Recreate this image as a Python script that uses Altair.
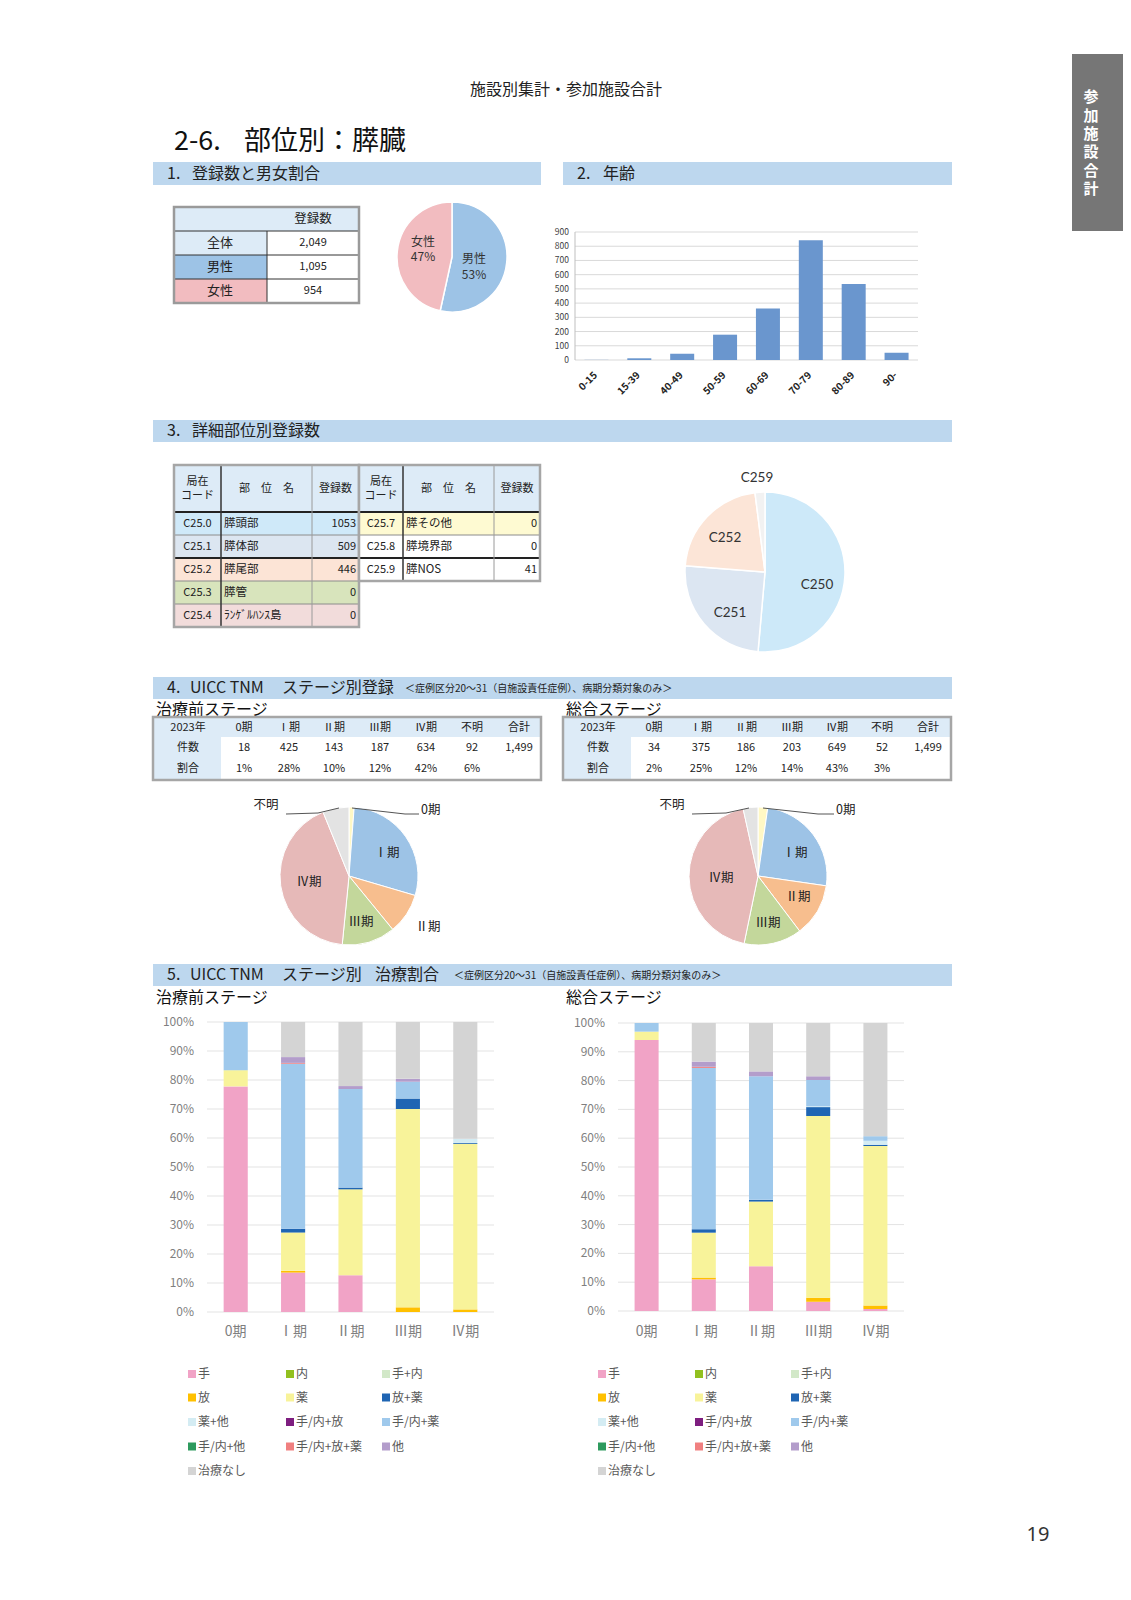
import altair as alt
import pandas as pd

# ---------------- data ----------------
sex_labels = ["男性", "女性"]
sex_counts = [1095, 954]

age_groups = ["0-15", "15-39", "40-49", "50-59", "60-69", "70-79", "80-89", "90-"]
age_counts = [1, 12, 44, 178, 362, 842, 535, 51]
age_ticks = [0, 100, 200, 300, 400, 500, 600, 700, 800, 900]

site_codes_a = ["C25.0", "C25.1", "C25.2", "C25.3", "C25.4"]
site_names_a = ["膵頭部", "膵体部", "膵尾部", "膵管", "ﾗﾝｹﾞﾙﾊﾝｽ島"]
site_counts_a = [1053, 509, 446, 0, 0]
site_codes_b = ["C25.7", "C25.8", "C25.9"]
site_names_b = ["膵その他", "膵境界部", "膵NOS"]
site_counts_b = [0, 0, 41]

stage_labels = ["0期", "Ⅰ期", "Ⅱ期", "Ⅲ期", "Ⅳ期", "不明"]
stage_pre = [18, 425, 143, 187, 634, 92]
stage_all = [34, 375, 186, 203, 649, 52]

treatments = ["手", "内", "手+内", "放", "薬", "放+薬", "薬+他", "手/内+放",
              "手/内+薬", "手/内+他", "手/内+放+薬", "他", "治療なし"]
bar_stages = ["0期", "Ⅰ期", "Ⅱ期", "Ⅲ期", "Ⅳ期"]
# percent per treatment (legend order), one list per stage
pre_treat = {
    "0期": [77.8, 0, 0, 0, 5.6, 0, 0, 0, 16.6, 0, 0, 0, 0],
    "Ⅰ期": [13.6, 0, 0, 0.6, 13.2, 1.3, 0, 0, 56.9, 0, 0.3, 2.0, 12.1],
    "Ⅱ期": [12.7, 0, 0, 0, 29.6, 0.6, 0, 0, 34.0, 0, 0, 1.0, 22.1],
    "Ⅲ期": [0, 0, 0, 1.6, 68.4, 3.6, 0, 0, 5.8, 0, 0, 1.0, 19.6],
    "Ⅳ期": [0, 0, 0, 0.9, 57.1, 0.3, 1.4, 0, 0, 0, 0, 0, 40.3],
}
all_treat = {
    "0期": [94.1, 0, 0, 0, 2.9, 0, 0, 0, 3.0, 0, 0, 0, 0],
    "Ⅰ期": [11.0, 0, 0, 0.6, 15.6, 1.2, 0, 0, 56.0, 0, 0.4, 1.8, 13.4],
    "Ⅱ期": [15.5, 0, 0, 0, 22.5, 0.6, 0, 0, 42.9, 0, 0, 1.7, 16.8],
    "Ⅲ期": [3.2, 0, 0, 1.4, 63.1, 3.1, 0.3, 0, 9.1, 0, 0, 1.3, 18.5],
    "Ⅳ期": [0.7, 0, 0, 1.2, 55.4, 0.4, 1.4, 0, 1.6, 0, 0, 0, 39.3],
}
pct_ticks = [0, 10, 20, 30, 40, 50, 60, 70, 80, 90, 100]

# ---------------- styles ----------------
SEX_COLORS = ["#9DC3E6", "#F2BCC0"]
SITE_COLORS = {"C250": "#CDE9F9", "C251": "#DCE6F2", "C252": "#FCE5D7", "C259": "#F2F2F2"}
STAGE_COLORS = ["#FFF8C5", "#9DC3E6", "#F7BE8E", "#C3D79B", "#E6B9B8", "#E3E3E3"]
TREAT_COLORS = ["#F1A3C6", "#92C01F", "#D2E8C8", "#FFC000", "#F8F39A", "#1F65B3",
                "#D4ECF3", "#7E1E80", "#9FC9EC", "#2E9B5E", "#F08080", "#B39DCB", "#D4D4D4"]
ROW_A = ["#CFE9F9", "#DCE6F1", "#FCE4D6", "#D8E4BC", "#F2DCDB"]
ROW_B = ["#FEFAD2", "#FFFFFF", "#FFFFFF"]
HDR = "#BDD7EE"
CELL = "#DDEBF7"
F = "Noto Sans CJK JP"
M = 8
layers = []


def P(v):
    return v - M


def texts(rows, align="center", baseline="middle", weight="normal", font=F, angle=None):
    df = pd.DataFrame(rows, columns=["x", "y", "t", "s", "c"])
    df["x"] = df["x"] - M
    df["y"] = df["y"] - M
    df["t"] = df["t"].astype(str)
    kw = dict(align=align, baseline=baseline, fontWeight=weight, font=font)
    if angle is not None:
        kw["angle"] = angle
    layers.append(alt.Chart(df).mark_text(**kw).encode(
        x=alt.X("x:Q", scale=None), y=alt.Y("y:Q", scale=None),
        text=alt.Text("t:N"), size=alt.Size("s:Q", scale=None),
        color=alt.Color("c:N", scale=None)))


def rects(rows):
    df = pd.DataFrame(rows, columns=["x", "x2", "y", "y2", "f"])
    for k in ["x", "x2", "y", "y2"]:
        df[k] = df[k] - M
    layers.append(alt.Chart(df).mark_rect().encode(
        x=alt.X("x:Q", scale=None), x2=alt.X2("x2"),
        y=alt.Y("y:Q", scale=None), y2=alt.Y2("y2"),
        color=alt.Color("f:N", scale=None)))


def boxes(rows):
    df = pd.DataFrame(rows, columns=["x", "x2", "y", "y2", "c", "w"])
    for k in ["x", "x2", "y", "y2"]:
        df[k] = df[k] - M
    layers.append(alt.Chart(df).mark_rect(filled=False).encode(
        x=alt.X("x:Q", scale=None), x2=alt.X2("x2"),
        y=alt.Y("y:Q", scale=None), y2=alt.Y2("y2"),
        color=alt.Color("c:N", scale=None),
        strokeWidth=alt.StrokeWidth("w:Q", scale=None)))


def lines(rows):
    df = pd.DataFrame(rows, columns=["x", "y", "x2", "y2", "c", "w"])
    for k in ["x", "x2", "y", "y2"]:
        df[k] = df[k] - M
    layers.append(alt.Chart(df).mark_rule().encode(
        x=alt.X("x:Q", scale=None), x2=alt.X2("x2"),
        y=alt.Y("y:Q", scale=None), y2=alt.Y2("y2"),
        color=alt.Color("c:N", scale=None),
        strokeWidth=alt.StrokeWidth("w:Q", scale=None)))


# ---------------- page furniture ----------------
rects([(1072, 1131, 54, 231, "#767676")])
texts([(1091, y, ch, 15, "#FFFFFF") for ch, y in
       zip("参加施設合計", [97, 115.5, 134, 152, 170.5, 189])], weight="bold")
texts([(566, 90, "施設別集計・参加施設合計", 16, "#222222")])
texts([(174, 142, "2-6.", 27, "#111111"), (244, 142, "部位別：膵臓", 27, "#111111")], align="left")
texts([(1038, 1535, "19", 20, "#333333")], font="Noto Sans")

rects([(153, 541, 162, 185, HDR), (563, 952, 162, 185, HDR), (153, 952, 420, 442, HDR),
       (153, 952, 677, 699, HDR), (153, 952, 964, 986, HDR)])
texts([
    (167, 173.5, "1.", 16, "#222222"), (192, 173.5, "登録数と男女割合", 16, "#222222"),
    (577, 173.5, "2.", 16, "#222222"), (603, 173.5, "年齢", 16, "#222222"),
    (167, 431, "3.", 16, "#222222"), (192, 431, "詳細部位別登録数", 16, "#222222"),
    (167, 688, "4.", 16, "#222222"), (190, 688, "UICC TNM", 16, "#222222"),
    (282, 688, "ステージ別登録", 16, "#222222"),
    (405, 689, "＜症例区分20～31（自施設責任症例）、病期分類対象のみ＞", 10, "#222222"),
    (167, 975, "5.", 16, "#222222"), (190, 975, "UICC TNM", 16, "#222222"),
    (282, 975, "ステージ別", 16, "#222222"), (375, 975, "治療割合", 16, "#222222"),
    (454, 976, "＜症例区分20～31（自施設責任症例）、病期分類対象のみ＞", 10, "#222222"),
    (156, 710, "治療前ステージ", 16, "#111111"), (566, 710, "総合ステージ", 16, "#111111"),
    (156, 997.5, "治療前ステージ", 16, "#111111"), (566, 997.5, "総合ステージ", 16, "#111111"),
], align="left")

# ---------------- 1. table + sex pie ----------------
total_reg = sum(sex_counts)
rects([(174, 359, 207, 231, CELL), (174, 267, 231, 255, CELL),
       (174, 267, 255, 279, SEX_COLORS[0]), (174, 267, 279, 303, SEX_COLORS[1])])
lines([(174, 231, 359, 231, "#333333", 1), (174, 255, 359, 255, "#333333", 1),
       (174, 279, 359, 279, "#333333", 1), (267, 231, 267, 303, "#333333", 1)])
boxes([(174, 359, 207, 303, "#9A9A9A", 2.5)])
texts([(313, 219, "登録数", 12.5, "#222222"),
       (220, 243, "全体", 13, "#222222"), (220, 267, sex_labels[0], 13, "#222222"),
       (220, 291, sex_labels[1], 13, "#222222"),
       (313, 243, f"{total_reg:,}", 11, "#222222"),
       (313, 267, f"{sex_counts[0]:,}", 11, "#222222"),
       (313, 291, f"{sex_counts[1]:,}", 11, "#222222")])

sex_df = pd.DataFrame({"label": sex_labels, "n": sex_counts, "k": [0, 1], "f": SEX_COLORS})
layers.append(alt.Chart(sex_df).mark_arc(radius=55, stroke="white", strokeWidth=1.5).encode(
    theta=alt.Theta("n:Q", stack=True), order=alt.Order("k:Q"),
    color=alt.Color("f:N", scale=None),
    x=alt.value(P(452)), y=alt.value(P(257))))
sex_pct = [f"{round(c * 100 / total_reg)}%" for c in sex_counts]
texts([(474, 259, sex_labels[0], 12, "#333333"), (474, 275, sex_pct[0], 12, "#333333"),
       (423, 242, sex_labels[1], 12, "#333333"), (423, 257, sex_pct[1], 12, "#333333")])

# ---------------- 2. age bars ----------------
age_df = pd.DataFrame({"g": age_groups, "n": age_counts})
xs_age = alt.Scale(domain=age_groups, range=[P(575), P(918)], paddingInner=0.44, paddingOuter=0.22)
ys_age = alt.Scale(domain=[0, 900], range=[P(360), P(232)], nice=False)
tick_df = pd.DataFrame({"v": age_ticks})
layers.append(alt.Chart(tick_df).mark_rule(color="#D9D9D9", strokeWidth=1).encode(
    y=alt.Y("v:Q", scale=ys_age, axis=None), x=alt.value(P(575)), x2=alt.value(P(918))))
layers.append(alt.Chart(tick_df).mark_text(align="right", baseline="middle", font=F,
                                           fontSize=8.5, color="#404040").encode(
    y=alt.Y("v:Q", scale=ys_age, axis=None), x=alt.value(P(569)), text="v:Q"))
lines([(575, 232, 575, 360, "#BFBFBF", 1)])
layers.append(alt.Chart(age_df).mark_bar(color="#6A96CE").encode(
    x=alt.X("g:N", scale=xs_age, axis=None), y=alt.Y("n:Q", scale=ys_age, axis=None)))
layers.append(alt.Chart(age_df).mark_text(align="right", baseline="middle", angle=315, dx=-1,
                                          font=F, fontSize=10, fontWeight="bold",
                                          color="#222222").encode(
    x=alt.X("g:N", scale=xs_age, axis=None), y=alt.value(P(373)), text="g:N"))

# ---------------- 3. site table + pie ----------------
def site_table(xc, rows_y, codes, names, counts, fills):
    x0, x1, x2, x3 = xc
    y_top, y_hdr = rows_y[0], rows_y[1]
    rects([(x0, x3, y_top, y_hdr, CELL)] +
          [(x0, x3, rows_y[i + 1], rows_y[i + 2], fills[i]) for i in range(len(codes))])
    yb = rows_y[len(codes) + 1]
    ln = [(x0, rows_y[i + 1], x3, rows_y[i + 1], "#8C8C8C", 1) for i in range(1, len(codes))]
    ln += [(x0, y_hdr, x3, y_hdr, "#222222", 2), (x0, rows_y[3], x3, rows_y[3], "#222222", 2),
           (x1, y_top, x1, yb, "#333333", 1.5), (x2, y_top, x2, yb, "#9A9A9A", 1)]
    lines(ln)
    boxes([(x0, x3, y_top, yb, "#A6A6A6", 2.5)])
    hc = (y_top + y_hdr) / 2
    texts([((x0 + x1) / 2, hc - 7, "局在", 11, "#222222"), ((x0 + x1) / 2, hc + 7, "コード", 11, "#222222"),
           ((x1 + x2) / 2, hc, "部　位　名", 11, "#222222"), ((x2 + x3) / 2, hc, "登録数", 11, "#222222")] +
          [((x0 + x1) / 2, (rows_y[i + 1] + rows_y[i + 2]) / 2, codes[i], 11, "#222222")
           for i in range(len(codes))])
    texts([(x1 + 3, (rows_y[i + 1] + rows_y[i + 2]) / 2, names[i], 11.5, "#222222")
           for i in range(len(codes))], align="left")
    texts([(x3 - 3, (rows_y[i + 1] + rows_y[i + 2]) / 2, str(counts[i]), 11, "#222222")
           for i in range(len(codes))], align="right")


site_rows = [465, 512, 535, 558, 581, 604, 627]
site_table((174, 221, 312, 359), site_rows, site_codes_a, site_names_a, site_counts_a, ROW_A)
site_table((359, 403, 494, 540), site_rows[:5], site_codes_b, site_names_b, site_counts_b, ROW_B)

all_codes = [c.replace(".", "") for c in site_codes_a + site_codes_b]
all_counts = site_counts_a + site_counts_b
site_df = pd.DataFrame({"code": all_codes, "n": all_counts, "k": list(range(len(all_codes)))})
site_df = site_df[site_df["n"] > 0].copy()
site_df["f"] = [SITE_COLORS[c] for c in site_df["code"]]
layers.append(alt.Chart(site_df).mark_arc(radius=80, stroke="white", strokeWidth=1.5).encode(
    theta=alt.Theta("n:Q", stack=True), order=alt.Order("k:Q"),
    color=alt.Color("f:N", scale=None),
    x=alt.value(P(765)), y=alt.value(P(572))))
site_lab_pos = {"C250": (817, 585), "C251": (730, 613), "C252": (725, 538), "C259": (757, 478)}
texts([(site_lab_pos[c][0], site_lab_pos[c][1], c, 13.5, "#333333") for c in site_df["code"]],
      font="Lato")

# ---------------- 4. stage tables + pies ----------------
def stage_table(x0, x3, colx, counts):
    total = sum(counts)
    pcts = [f"{round(c * 100 / total)}%" for c in counts]
    rects([(x0, x3, 718, 737, CELL), (x0, 221 + (x0 - 153), 737, 779, CELL)])
    boxes([(x0, x3, 717, 780, "#A6A6A6", 2.5)])
    hdr = ["2023年"] + stage_labels + ["合計"]
    r2 = ["件数"] + [f"{c:,}" for c in counts] + [f"{total:,}"]
    r3 = ["割合"] + pcts + [""]
    rows = []
    for i, cx in enumerate(colx):
        rows.append((cx, 727.5, hdr[i], 11, "#222222"))
        rows.append((cx, 747.5, r2[i], 11, "#222222"))
        if r3[i]:
            rows.append((cx, 768.5, r3[i], 11, "#222222"))
    texts(rows)


stage_table(153, 541, [188, 244, 289, 334, 380, 426, 472, 519], stage_pre)
stage_table(563, 951, [598, 654, 701, 746, 792, 837, 882, 928], stage_all)


def stage_pie(counts, cx, cy, r):
    df = pd.DataFrame({"stage": stage_labels, "n": counts, "k": list(range(6)), "f": STAGE_COLORS})
    layers.append(alt.Chart(df).mark_arc(radius=r, stroke="white", strokeWidth=1).encode(
        theta=alt.Theta("n:Q", stack=True), order=alt.Order("k:Q"),
        color=alt.Color("f:N", scale=None),
        x=alt.value(P(cx)), y=alt.value(P(cy))))


stage_pie(stage_pre, 349, 876, 69)
stage_pie(stage_all, 758, 876, 69)
lines([(286, 814, 318, 813, "#555555", 1), (318, 813, 339, 808, "#555555", 1),
       (352, 808, 405, 814, "#555555", 1), (405, 814, 419, 814, "#555555", 1),
       (692, 814, 726, 813, "#555555", 1), (726, 813, 749, 808, "#555555", 1),
       (763, 808, 818, 814, "#555555", 1), (818, 814, 834, 814, "#555555", 1)])
texts([(266, 805, stage_labels[5], 12.5, "#222222"), (387, 853, stage_labels[1], 12.5, "#222222"),
       (309, 882, stage_labels[4], 12.5, "#222222"), (361, 922, stage_labels[3], 12.5, "#222222"),
       (428, 927, stage_labels[2], 12.5, "#222222"),
       (672, 805, stage_labels[5], 12.5, "#222222"), (795, 853, stage_labels[1], 12.5, "#222222"),
       (721, 878, stage_labels[4], 12.5, "#222222"), (768, 923, stage_labels[3], 12.5, "#222222"),
       (798, 897, stage_labels[2], 12.5, "#222222")])
texts([(421, 810, stage_labels[0], 12.5, "#222222"), (836, 810, stage_labels[0], 12.5, "#222222")],
      align="left")

# ---------------- 5. treatment stacked bars ----------------
def stacked(vals, xl, xr, y0, y1, lab_x):
    rows = []
    for s in bar_stages:
        for k, (t, v) in enumerate(zip(treatments, vals[s])):
            rows.append({"stage": s, "trt": t, "k": k, "v": v})
    df = pd.DataFrame(rows)
    xs = alt.Scale(domain=bar_stages, range=[P(xl), P(xr)], paddingInner=0.58, paddingOuter=0.29)
    ys = alt.Scale(domain=[0, 1], range=[P(y0), P(y1)], nice=False, zero=False)
    tdf = pd.DataFrame({"v": [t / 100 for t in pct_ticks], "lab": [f"{t}%" for t in pct_ticks]})
    layers.append(alt.Chart(tdf).mark_rule(color="#E3E3E3", strokeWidth=1).encode(
        y=alt.Y("v:Q", scale=ys, axis=None), x=alt.value(P(xl)), x2=alt.value(P(xr))))
    layers.append(alt.Chart(tdf).mark_text(align="right", baseline="middle", font=F,
                                           fontSize=12, color="#7F7F7F").encode(
        y=alt.Y("v:Q", scale=ys, axis=None), x=alt.value(P(lab_x)), text="lab:N"))
    layers.append(alt.Chart(df).mark_bar().encode(
        x=alt.X("stage:N", scale=xs, axis=None),
        y=alt.Y("v:Q", stack="normalize", scale=ys, axis=None),
        color=alt.Color("trt:N", scale=alt.Scale(domain=treatments, range=TREAT_COLORS), legend=None),
        order=alt.Order("k:Q", sort="ascending")))
    layers.append(alt.Chart(pd.DataFrame({"stage": bar_stages})).mark_text(
        baseline="middle", font=F, fontSize=14, color="#7F7F7F").encode(
        x=alt.X("stage:N", scale=xs, axis=None), y=alt.value(P(1332)), text="stage:N"))


stacked(pre_treat, 207, 494, 1312, 1022, 194)
stacked(all_treat, 618, 904, 1311, 1023, 605)


def legend(colx, rowy):
    sq, tx = [], []
    for i, (t, c) in enumerate(zip(treatments, TREAT_COLORS)):
        x = colx[i % 3]
        y = rowy[i // 3]
        sq.append((x - 4, x + 4, y - 4, y + 4, c))
        tx.append((x + 6, y, t, 12, "#595959"))
    rects(sq)
    texts(tx, align="left")


leg_rows = [1374, 1397.5, 1422, 1446.5, 1471]
legend([192, 290, 386], leg_rows)
legend([602, 699, 795], leg_rows)

chart = alt.layer(*layers).resolve_scale(
    x="independent", y="independent", color="independent", theta="independent"
).properties(
    width=1115, height=1584, padding=0,
    autosize=alt.AutoSizeParams(type="none"), background="white"
).configure_view(stroke=None)

chart.save("out.html", embed_options={"renderer": "svg", "actions": False})
